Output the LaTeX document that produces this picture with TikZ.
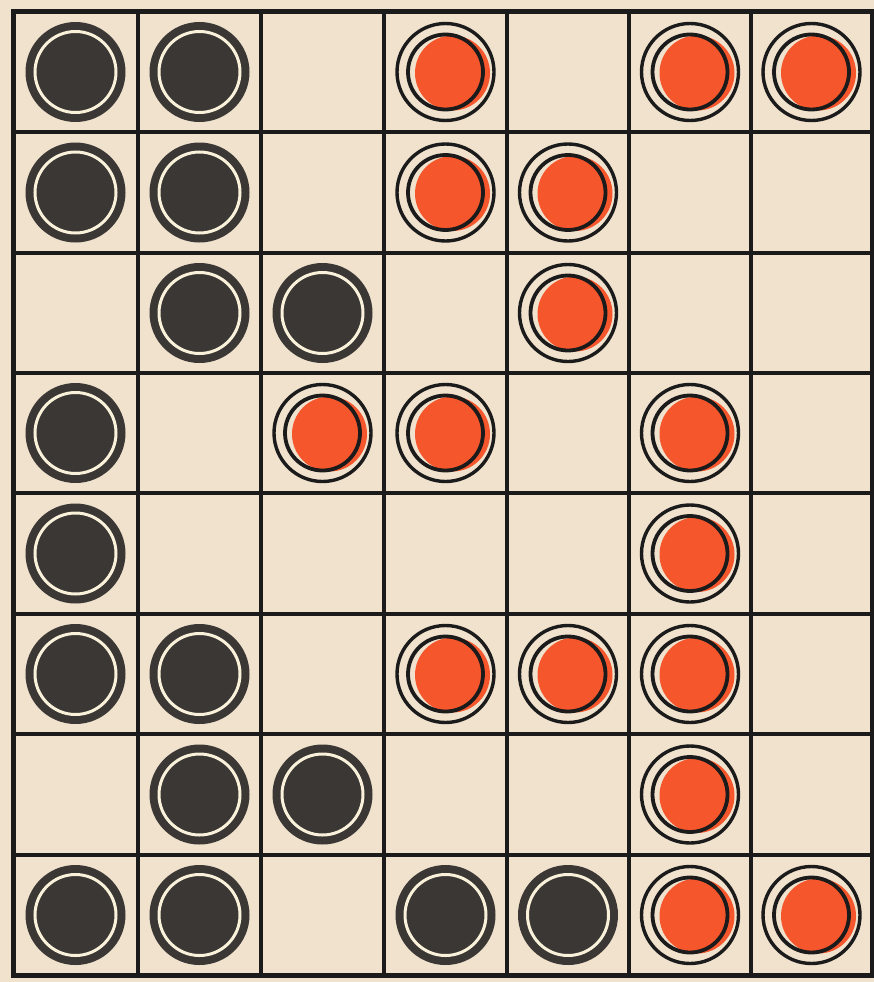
\documentclass[tikz,border=0pt]{standalone}
\definecolor{paper}{RGB}{240,226,205}
\definecolor{ink}{RGB}{28,27,27}
\definecolor{piececol}{RGB}{58,55,52}
\definecolor{ringcol}{RGB}{250,241,218}
\definecolor{redcol}{RGB}{246,86,44}
\tikzset{
  gridline/.style={ink, line width=3.2},
  frameline/.style={ink, line width=5},
  darkpiece/.pic={
    \fill[piececol] (0,0) circle (50);
    \draw[ringcol, line width=3] (0,0) circle (40.5);
  },
  redpiece/.pic={
    \fill[redcol] (7,1) circle (37.5);
    \draw[ink, line width=3.4] (0,0) circle (48.5);
    \draw[ink, line width=3.8] (0,0) circle (37.5);
  }
}
\begin{document}
\begin{tikzpicture}[x=1pt,y=-1pt]
\fill[paper] (0,0) rectangle (874,982);
\useasboundingbox (0,0) rectangle (874,982);
% grid
\foreach \x in {138,261,384,507,629,751} \draw[gridline] (\x,12) -- (\x,975);
\foreach \y in {132,253,373,493,614,734,855} \draw[gridline] (13,\y) -- (872,\y);
\draw[frameline] (13,12) rectangle (872,975);
% cell centres
\def\cx#1{\ifcase#1\or75.5\or199.5\or322.5\or445.5\or568\or690\or811.5\fi}
\def\cy#1{\ifcase#1\or72\or192.5\or313\or433\or553.5\or674\or794.5\or915\fi}
% dark pieces (col,row)
\foreach \c/\r in {1/1,2/1,1/2,2/2,2/3,3/3,1/4,1/5,1/6,2/6,2/7,3/7,1/8,2/8,4/8,5/8}
  \pic (d\c\r) at ({\cx{\c}},{\cy{\r}}) {darkpiece};
% red pieces (col,row)
\foreach \c/\r in {4/1,6/1,7/1,4/2,5/2,5/3,3/4,4/4,6/4,6/5,4/6,5/6,6/6,6/7,6/8,7/8}
  \pic (r\c\r) at ({\cx{\c}},{\cy{\r}}) {redpiece};
\end{tikzpicture}
\end{document}
